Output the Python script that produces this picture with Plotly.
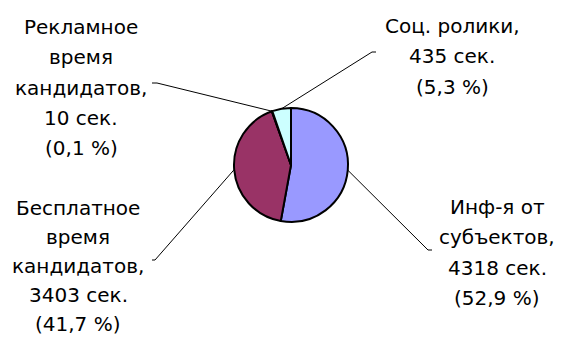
import math
import plotly.graph_objects as go

# ---- data ----
categories = ["Инф-я от субъектов", "Бесплатное время кандидатов",
              "Рекламное время кандидатов", "Соц. ролики"]
seconds = [4318, 3403, 10, 435]
percents = [52.9, 41.7, 0.1, 5.3]
name_lines = [["Инф-я от", "субъектов,"],
              ["Бесплатное", "время", "кандидатов,"],
              ["Рекламное", "время", "кандидатов,"],
              ["Соц. ролики,"]]
colors = ["#9999FF", "#993366", "#FFFFCC", "#CCFFFF"]

# ---- layout constants (pixels) ----
W, H = 562, 337
CX, CY, R = 291, 165, 57
# label text centre x, first line y, line step; leader elbow and tick end
label_pos = [
    dict(x=497, y0=207, dy=30.3, elbow=(428, 250), tick=(432, 250)),
    dict(x=78, y0=208, dy=29, elbow=(155, 260), tick=(152, 260)),
    dict(x=81, y0=27, dy=30.3, elbow=(157, 83), tick=(152, 83)),
    dict(x=452, y0=26, dy=30.5, elbow=(372, 52), tick=(376, 52)),
]
FONT = dict(family="DejaVu Sans", size=20, color="black")


def px(x):
    return x / W


def py(y):
    return 1 - y / H


fig = go.Figure(go.Pie(
    labels=categories, values=seconds, sort=False, direction="clockwise",
    rotation=0, textinfo="none", hoverinfo="skip", showlegend=False,
    marker=dict(colors=colors, line=dict(color="black", width=2)),
    domain=dict(x=[px(CX - R), px(CX + R)], y=[py(CY + R), py(CY - R)]),
))

total = sum(seconds)
cum = 0
shapes = []
annotations = []
for i, v in enumerate(seconds):
    mid = (cum + v / 2) / total * 2 * math.pi
    cum += v
    sx = CX + R * math.sin(mid)
    sy = CY - R * math.cos(mid)
    lp = label_pos[i]
    ex, ey = lp["elbow"]
    tx, ty = lp["tick"]
    shapes.append(dict(
        type="path", xref="paper", yref="paper",
        path=f"M {px(sx)} {py(sy)} L {px(ex)} {py(ey)} L {px(tx)} {py(ty)}",
        line=dict(color="black", width=1)))
    pct = f"({percents[i]:.1f} %)".replace(".", ",")
    lines = name_lines[i] + [f"{seconds[i]} сек.", pct]
    for k, t in enumerate(lines):
        annotations.append(dict(
            x=px(lp["x"]), y=py(lp["y0"] + k * lp["dy"]), xref="paper", yref="paper",
            text=t, showarrow=False, xanchor="center", yanchor="middle", font=FONT))

fig.update_layout(
    width=W, height=H, margin=dict(l=0, r=0, t=0, b=0),
    paper_bgcolor="white", plot_bgcolor="white",
    shapes=shapes, annotations=annotations,
)
fig.write_html("out.html", config={"displayModeBar": False},
               post_script="document.body.style.margin='0';")
